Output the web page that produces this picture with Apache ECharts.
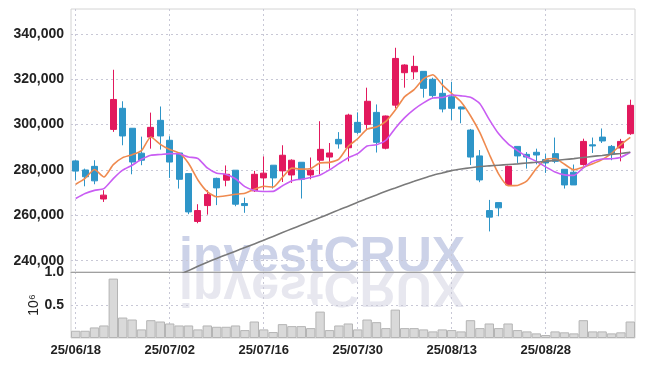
<!DOCTYPE html>
<html>
<head>
<meta charset="utf-8">
<style>
html, body { margin: 0; padding: 0; background: #fff; }
#chart { width: 645px; height: 366px; }
</style>
<script src="https://cdn.jsdelivr.net/npm/echarts@6/dist/echarts.min.js"></script>
</head>
<body>
<div id="chart"></div>
<script>
// 거래일 (25/06/18 ~ 25/09/10)
const dates = [
    '25/06/18', '25/06/19', '25/06/20', '25/06/23', '25/06/24', '25/06/25', '25/06/26', '25/06/27', '25/06/30',
    '25/07/01', '25/07/02', '25/07/03', '25/07/04', '25/07/07', '25/07/08', '25/07/09', '25/07/10', '25/07/11',
    '25/07/14', '25/07/15', '25/07/16', '25/07/17', '25/07/18', '25/07/21', '25/07/22', '25/07/23', '25/07/24',
    '25/07/25', '25/07/28', '25/07/29', '25/07/30', '25/07/31', '25/08/01', '25/08/04', '25/08/05', '25/08/06',
    '25/08/07', '25/08/08', '25/08/11', '25/08/12', '25/08/13', '25/08/14', '25/08/18', '25/08/19', '25/08/20',
    '25/08/21', '25/08/22', '25/08/25', '25/08/26', '25/08/27', '25/08/28', '25/08/29', '25/09/01', '25/09/02',
    '25/09/03', '25/09/04', '25/09/05', '25/09/08', '25/09/09', '25/09/10'
]
const opens = [
    284000, 280000, 281600, 267200, 297900, 307200, 298400, 287400, 294500, 301900,
    293100, 287500, 278400, 257300, 264300, 276300, 275500, 279900, 265200, 270800,
    276500, 282100, 279600, 277800, 283400, 277800, 284300, 285700, 293500, 289800,
    301000, 300100, 305400, 289600, 308600, 322900, 323300, 323500, 320000, 313800,
    312300, 307800, 297600, 286200, 262100, 265600, 273400, 290400, 286900, 287800,
    284600, 287200, 280300, 279000, 282400, 291100, 294500, 290400, 289700, 296000
]
const closes = [
    279500, 277000, 275200, 268900, 311100, 295000, 283500, 284300, 298800, 295000,
    283500, 275900, 261500, 262100, 269200, 272100, 278100, 264900, 264300, 278100,
    278600, 276500, 286500, 284300, 275900, 279900, 289100, 287500, 291500, 304200,
    296600, 310300, 292200, 303800, 329200, 326300, 325700, 316000, 312800, 306900,
    307200, 306900, 285700, 275600, 259200, 263300, 281600, 286200, 285700, 286600,
    283100, 283800, 273400, 273400, 292600, 290600, 292800, 287200, 292600, 308500
]
const lows = [
    275500, 272800, 273700, 265900, 296800, 290900, 278100, 282100, 289400, 289000,
    276500, 271800, 260500, 256500, 260300, 264500, 272800, 264000, 261100, 270300,
    271400, 271800, 274700, 274300, 267400, 275900, 278100, 280600, 289400, 283800,
    295900, 297600, 287700, 289100, 307200, 316300, 320000, 311900, 311900, 305400,
    302000, 300600, 282200, 274600, 252900, 259600, 273000, 283100, 280600, 282500,
    278700, 283000, 271800, 273400, 281900, 287500, 291900, 284300, 283800, 295500
]
const highs = [
    284300, 280600, 284300, 271100, 324200, 310300, 298400, 294700, 305300, 308000,
    294900, 287800, 278400, 264900, 271100, 276600, 282000, 279900, 267800, 279600,
    286000, 282100, 290900, 284700, 283400, 285500, 301500, 291900, 296700, 304800,
    305400, 316300, 308900, 304000, 333900, 326600, 330400, 323500, 320700, 320000,
    318900, 308000, 298100, 288800, 266800, 265600, 281900, 290400, 287900, 289400,
    287200, 294300, 280300, 282400, 293800, 294300, 298300, 291000, 293700, 311000
]
// 이동평균선
const ma5 = [
    273700, 276300, 280200, 276900, 282340, 285440, 286740, 288560, 294540, 291320,
    289020, 287500, 282940, 275600, 270440, 268160, 268600, 269280, 269720, 271500,
    272800, 272480, 276800, 280800, 280360, 280620, 283140, 283340, 284780, 290440,
    293780, 298020, 298960, 301420, 306420, 312360, 315440, 320200, 322000, 317540,
    313720, 309960, 303900, 296460, 286920, 278140, 273080, 273180, 275200, 280680,
    284640, 285080, 282520, 280060, 281260, 282760, 284560, 287320, 291160, 294340
]
const ma10 = [
    267400, 269600, 271000, 271800, 276200, 279900, 282100, 284700, 286500, 286830,
    287230, 287120, 285750, 285070, 280880, 278590, 278050, 276110, 272660, 270970,
    270480, 270540, 273040, 275260, 275930, 276710, 277810, 280070, 282790, 285400,
    287200, 290580, 291150, 293100, 298430, 303070, 306730, 309580, 311710, 311980,
    313040, 312700, 312050, 309230, 302230, 295930, 291520, 288540, 285830, 283800,
    281390, 279080, 277850, 277630, 280970, 283700, 284820, 284920, 285610, 287800
]
const maLong = [
    null, null, null, null, null, null, null, null, null, null,
    null, 233800, 235600, 237500, 239300, 241000, 242600, 244200, 245800, 247400,
    249000, 250700, 252400, 254100, 255700, 257400, 259000, 260700, 262400, 264000,
    265800, 267400, 269000, 270600, 272100, 273600, 275000, 276400, 277700, 278700,
    279700, 280400, 281000, 281500, 281800, 282100, 282400, 282700, 283100, 283400,
    283800, 284200, 284600, 285000, 285500, 286000, 286400, 286900, 287300, 287800
]
// 거래량 (단위 10^6)
const volumes = [
    0.11, 0.11, 0.16, 0.19, 0.90, 0.31, 0.28, 0.13, 0.27, 0.25,
    0.22, 0.19, 0.19, 0.13, 0.19, 0.17, 0.17, 0.19, 0.12, 0.25,
    0.13, 0.09, 0.21, 0.18, 0.18, 0.15, 0.40, 0.12, 0.19, 0.22,
    0.13, 0.28, 0.24, 0.15, 0.43, 0.15, 0.15, 0.13, 0.10, 0.13,
    0.12, 0.10, 0.27, 0.15, 0.22, 0.15, 0.22, 0.12, 0.10, 0.07,
    0.045, 0.10, 0.086, 0.07, 0.27, 0.10, 0.10, 0.07, 0.086, 0.25
]
const priceTicks = [240000, 260000, 280000, 300000, 320000, 340000]
const volumeTicks = [0.5, 1.0]

const upColor = '#e2195d'
const downColor = '#2e95c8'
const labelFont = '"Liberation Sans", Arial, sans-serif'
const dashed = { color: '#c8c8d6', type: [2, 3], width: 1 }

const candleData = opens.map((o, i) => [o, closes[i], lows[i], highs[i]])

let myChart = echarts.init(document.getElementById('chart'))
myChart.setOption({
    animation: false,
    grid: [
        { left: 71, right: 10, top: 9, height: 263, show: true, borderColor: '#d4d4d4', borderWidth: 1 },
        { left: 71, right: 10, top: 272, height: 66, show: true, borderColor: '#d4d4d4', borderWidth: 1 }
    ],
    graphic: [
        { // 워터마크
            type: 'text', x: 179, y: 283, z: -1, silent: true,
            style: { text: 'investCRUX', font: 'bold 50px "Liberation Sans", sans-serif', fill: '#ccd2e8', verticalAlign: 'bottom' }
        },
        { // 반사
            type: 'text', x: 179, y: 261, scaleY: -1, z: -1, silent: true,
            style: { text: 'investCRUX', font: 'bold 50px "Liberation Sans", sans-serif', fill: '#e7e7ef', verticalAlign: 'bottom' }
        }
    ],
    xAxis: [
        {
            type: 'category', gridIndex: 0, data: dates,
            axisLabel: { show: false },
            axisTick: { show: false },
            axisLine: { lineStyle: { color: '#a0a0a0' } },
            splitLine: { show: true, interval: 9, alignWithLabel: true, lineStyle: dashed }
        },
        {
            type: 'category', gridIndex: 1, data: dates,
            axisLabel: { interval: 9, color: '#222', fontFamily: labelFont, fontSize: 13, fontWeight: 'bold', margin: 6 },
            axisTick: { show: false },
            axisLine: { show: false },
            splitLine: { show: true, interval: 9, alignWithLabel: true, lineStyle: dashed }
        }
    ],
    yAxis: [
        {
            type: 'value', gridIndex: 0, min: 235000, max: 351000, scale: true,
            axisLine: { show: false },
            axisTick: { show: false, customValues: priceTicks },
            axisLabel: {
                customValues: priceTicks, color: '#222', fontFamily: labelFont, fontSize: 14, fontWeight: 'bold', margin: 7,
                formatter: v => v.toLocaleString('en-US')
            },
            splitLine: { show: true, lineStyle: dashed }
        },
        {
            type: 'value', gridIndex: 1, min: 0, max: 1,
            name: '10⁶', nameLocation: 'middle', nameRotate: 90, nameGap: 30, nameMoveOverlap: false,
            nameTextStyle: { color: '#222', fontFamily: labelFont, fontSize: 14 },
            axisLine: { show: false },
            axisTick: { show: false, customValues: volumeTicks },
            axisLabel: {
                customValues: volumeTicks, color: '#222', fontFamily: labelFont, fontSize: 14, fontWeight: 'bold', margin: 7,
                formatter: v => v.toFixed(1)
            },
            splitLine: { show: true, lineStyle: dashed }
        }
    ],
    series: [
        {
            name: 'price', type: 'candlestick', xAxisIndex: 0, yAxisIndex: 0,
            data: candleData, barWidth: '68%',
            itemStyle: { color: upColor, color0: downColor, borderColor: upColor, borderColor0: downColor, borderWidth: 1 }
        },
        {
            name: 'MA5', type: 'line', xAxisIndex: 0, yAxisIndex: 0, data: ma5,
            showSymbol: false, smooth: 0.2, lineStyle: { color: '#ef8a4f', width: 1.6 }
        },
        {
            name: 'MA10', type: 'line', xAxisIndex: 0, yAxisIndex: 0, data: ma10,
            showSymbol: false, smooth: 0.2, lineStyle: { color: '#c95df3', width: 1.6 }
        },
        {
            name: 'MA long', type: 'line', xAxisIndex: 0, yAxisIndex: 0, data: maLong,
            showSymbol: false, smooth: 0.2, lineStyle: { color: '#7a7a7a', width: 1.6 }
        },
        {
            name: 'volume', type: 'bar', xAxisIndex: 1, yAxisIndex: 1, data: volumes,
            barCategoryGap: '0%',
            itemStyle: { color: '#d9d9d9', borderColor: '#b5b5b5', borderWidth: 1 }
        }
    ]
})
window.addEventListener('resize', function () {
    myChart.resize()
})
</script>
</body>
</html>
